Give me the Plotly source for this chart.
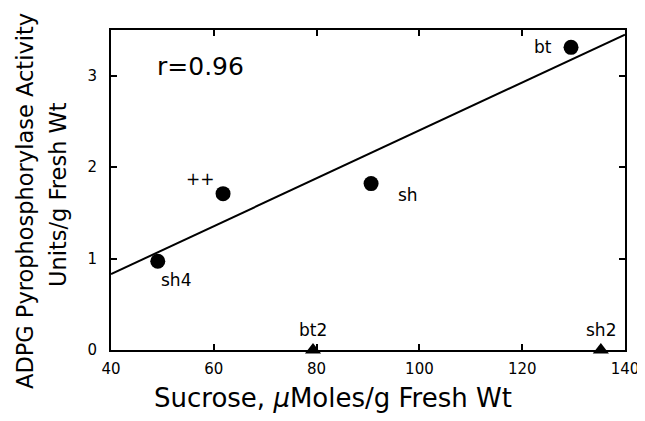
import plotly.graph_objects as go

# Data
circle_names = ["bt", "++", "sh", "sh4"]
circle_x = [129.5, 61.8, 90.6, 49.1]
circle_y = [3.31, 1.71, 1.82, 0.97]

tri_names = ["bt2", "sh2"]
tri_x = [79.3, 135.3]
tri_y = [0.0, 0.0]

fit_x = [40, 140]
fit_y = [0.83, 3.45]

x_ticks = [40, 60, 80, 100, 120, 140]
y_ticks = [0, 1, 2, 3]

r_text = "r=0.96"

# label offsets (pixels) for each point label
circle_shift = [(-28, 0), (-23, 15), (37, -11), (18, -19)]
tri_shift = [(0, 20), (0, 20)]

FONT = "DejaVu Sans"

# page body has an 8px default margin; compensate so the plot lands where intended
OFF = 8
W, H = 645 - OFF, 421 - 2 * OFF
L, T = 111 - OFF, 30 - OFF
R = W - (625 - OFF)
B = H - (350 - OFF)
PW, PH = W - L - R, H - T - B


def px_to_paper(px, py):
    # px, py are page pixel coordinates
    return (px - OFF - L) / PW, (H - B - (py - OFF)) / PH


fig = go.Figure()
fig.add_trace(go.Scatter(x=fit_x, y=fit_y, mode="lines",
                         line=dict(color="black", width=2), showlegend=False,
                         hoverinfo="skip"))
fig.add_trace(go.Scatter(x=circle_x, y=circle_y, mode="markers",
                         marker=dict(symbol="circle", size=15, color="black"),
                         showlegend=False, cliponaxis=False))
fig.add_trace(go.Scatter(x=tri_x, y=tri_y, mode="markers",
                         marker=dict(symbol="triangle-up", size=14, color="black"),
                         showlegend=False, cliponaxis=False))

annotations = []
for name, x, y, (dx, dy) in zip(circle_names, circle_x, circle_y, circle_shift):
    annotations.append(dict(x=x, y=y, xref="x", yref="y", text=name, showarrow=False,
                            xanchor="center", yanchor="middle",
                            xshift=dx, yshift=dy, font=dict(size=17, color="black", family=FONT)))
for name, x, y, (dx, dy) in zip(tri_names, tri_x, tri_y, tri_shift):
    annotations.append(dict(x=x, y=y, xref="x", yref="y", text=name, showarrow=False,
                            xanchor="center", yanchor="middle",
                            xshift=dx, yshift=dy, font=dict(size=17, color="black", family=FONT)))
annotations.append(dict(x=57.5, y=3.10, xref="x", yref="y", text=r_text, showarrow=False,
                        xanchor="center", yanchor="middle",
                        font=dict(size=25, color="black", family=FONT)))
# axis titles
tx, ty = px_to_paper(333, 398)
annotations.append(dict(x=tx, y=ty, xref="paper", yref="paper",
                        xanchor="center", yanchor="middle",
                        text="Sucrose, <i>μ</i>Moles/g Fresh Wt", showarrow=False,
                        font=dict(size=26, color="black", family=FONT)))
y1x, y1y = px_to_paper(25, 201)
annotations.append(dict(x=y1x, y=y1y, xref="paper", yref="paper",
                        xanchor="center", yanchor="middle",
                        text="ADPG Pyrophosphorylase Activity", showarrow=False, textangle=-90,
                        font=dict(size=22.5, color="black", family=FONT)))
y2x, y2y = px_to_paper(58, 195)
annotations.append(dict(x=y2x, y=y2y, xref="paper", yref="paper",
                        xanchor="center", yanchor="middle",
                        text="Units/g Fresh Wt", showarrow=False, textangle=-90,
                        font=dict(size=22.5, color="black", family=FONT)))

axis_common = dict(showgrid=False, zeroline=False, showline=True, linecolor="black",
                   linewidth=2, ticks="inside", ticklen=6, tickwidth=1.5, tickcolor="black",
                   mirror="ticks", tickfont=dict(size=15, color="black", family=FONT),
                   automargin=False)

fig.update_layout(
    width=W, height=H, autosize=False,
    margin=dict(l=L, r=R, t=T, b=B),
    paper_bgcolor="white", plot_bgcolor="white",
    xaxis=dict(range=[40, 140], tickvals=x_ticks, ticklabelstandoff=4, **axis_common),
    yaxis=dict(range=[0, 3.5], tickvals=y_ticks, ticklabelstandoff=9, **axis_common),
    annotations=annotations,
    font=dict(family=FONT, color="black"),
)

fig.write_html("out.html", config={"responsive": False})
